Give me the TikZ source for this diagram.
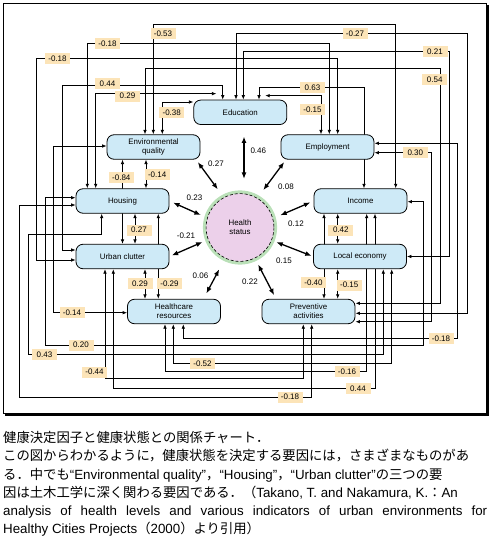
\documentclass[tikz,border=0pt]{standalone}
\usepackage{fontspec}
\setmainfont{Liberation Sans}
\newfontfamily\jp{Noto Sans CJK JP}
\usetikzlibrary{shapes, arrows, arrows.meta, positioning, calc, backgrounds}
\definecolor{boxblue}{RGB}{206,234,247}
\definecolor{coeforange}{RGB}{252,228,184}
\definecolor{healthpink}{RGB}{236,208,234}
\definecolor{ringgreen}{RGB}{186,224,184}
\tikzstyle{block} = [rectangle, draw, fill=boxblue, minimum width=93bp, minimum height=24.5bp, rounded corners=7bp, align=center, inner sep=0pt, line width=0.8bp, font=\fontsize{7.9bp}{8.9bp}\selectfont]
\tikzstyle{line} = [draw, line width=0.8bp, {Latex[length=4.5bp,width=3.6bp]}-{Latex[length=4.5bp,width=3.6bp]}]
\tikzstyle{hline} = [draw, line width=1.3bp, {Latex[length=6.5bp,width=5bp]}-{Latex[length=6.5bp,width=5bp]}]
\tikzstyle{coef} = [fill=coeforange, minimum width=25bp, minimum height=11bp, inner sep=0pt, font=\fontsize{8bp}{9bp}\selectfont]
\tikzstyle{numlbl} = [inner sep=0pt, font=\fontsize{8bp}{9bp}\selectfont]
\tikzstyle{captxt} = [inner sep=0pt, anchor=base west, font=\fontsize{13.33bp}{16bp}\selectfont]

\begin{document}
\begin{tikzpicture}[x=1bp, y=-1bp]
    \useasboundingbox (0,0) rectangle (495,536);
    \draw[line width=0.8bp] (3.3,3.3) rectangle (486,413);
    \draw[line width=2.6bp] (487.6,5) -- (487.6,414.6) -- (5,414.6);

    \node [block] (education) at (240.3,112.3) {Education};
    \node [block] (employment) at (327.5,147) {Employment};
    \node [block] (envq) at (153.5,147) {Environmental\\quality};
    \node [block] (housing) at (122.5,201) {Housing};
    \node [block] (urban) at (122.5,256.5) {Urban clutter};
    \node [block] (hcare) at (174,311.5) {Healthcare\\resources};
    \node [block] (income) at (360.5,201) {Income};
    \node [block] (localeco) at (360,256.5) {Local economy};
    \node [block] (prevent) at (308.5,311.5) {Preventive\\activities};
    \node [circle, draw=ringgreen, line width=3.2bp, fill=healthpink, minimum size=71bp, align=center, font=\fontsize{7.9bp}{8.9bp}\selectfont] (health) at (240,227.5) {Health\\status};
    \draw[densely dashed, line width=0.6bp] (health.center) circle (33.9);

    \begin{scope}[on background layer]
        % links round the outside
        \path [line] (envq.north -| 153.3,0) |- (395.7,24.3) -- (income.north -| 395.7,0) node[coef] at (163,33.5) {-0.53};
        \path [line] (education.north -| 236,0) |- (467.3,33.5) |- (prevent.east |- 0,313.3) node[coef] at (355,33.5) {-0.27};
        \path [line] (housing.north -| 87.3,0) |- (329.3,43.3) -- (employment.north -| 329.3,0) node[coef] at (107.5,43.5) {-0.18};
        \path [line] (education.north -| 243.3,0) |- (449.3,51) |- (localeco.east) node[coef] at (435,51.7) {0.21};
        \path [line] (urban.west |- 0,260) -| (36,58.3) -| (employment.north -| 337.7,0) node[coef] at (57.5,58.3) {-0.18};
        \path [line] (envq.north -| 145,0) |- (440.5,68.3) |- (prevent.east |- 0,303.3) node[coef] at (434.7,79.5) {0.54};
        \path [line] (urban.west |- 0,250) -| (62.7,85) -| (education.north -| 222.7,0) node[coef] at (107.5,83.5) {0.44};
        \path [line] (housing.north -| 95.7,0) |- ($(education.north west)+(23,-6)$) node[coef] at (127.5,96.2) {0.29};
        \path [line] (education.north -| 259,0) |- (364,87.3) -- (income.north -| 364,0) node[coef] at (312.5,87.5) {0.63};
        \path [line] (envq.north -| 162.3,0) |- (education.west |- 0,102) node[coef] at (171.7,112.8) {-0.38};
        \path [line] (employment.north -| 321,0) |- ($(education.north east)+(-22,-4)$) node[coef] at (312.5,109.5) {-0.15};
        \path [line] (employment.east |- 0,152.7) -| (431.7,321.7) -- (prevent.east |- 0,321.7) node[coef] at (415.3,153) {0.30};
        \path [line] (employment.east |- 0,143.3) -| (457.7,338.3) -| (hcare.south -| 183.3,0) node[coef] at (441,338.3) {-0.18};
        \path [line] (housing.west |- 0,197.7) -| (45,345) -| (423.3,201.7) -- (income.east |- 0,201.7) node[coef] at (81,345) {0.20};
        \path [line] (housing.west |- 0,205) -| (19.3,397) -| (prevent.south -| 311.7,0) node[coef] at (290,397) {-0.18};
        \path [line] (housing.south -| 101.7,0) |- (28.3,234.3) |- (383.3,354.3) -- (localeco.south -| 383.3,0) node[coef] at (44.5,354.3) {0.43};
        \path [line] (envq.west |- 0,146) -| (53.3,312.7) -- (hcare.west |- 0,312.7) node[coef] at (72,312.7) {-0.14};
        \path [line] (urban.south -| 105,0) |- (303.3,378.3) -- (prevent.south -| 303.3,0) node[coef] at (94.5,372) {-0.44};
        \path [line] (urban.south -| 113.3,0) |- (375,388.3) -- (income.south -| 375,0) node[coef] at (358,388.8) {0.44};
        \path [line] (hcare.south -| 165,0) |- (366.7,371.7) -- (income.south -| 366.7,0) node[coef] at (347,371.7) {-0.16};
        \path [line] (hcare.south -| 173.3,0) |- (391.7,363.3) -- (localeco.south -| 391.7,0) node[coef] at (202.5,363.3) {-0.52};
        % short links between the columns
        \path [line] (urban.north -| 122.5,0) -- (envq.south -| 122.5,0) node[coef] at (121.3,177.5) {-0.84};
        \path [line] (envq.south -| 146,0) -- (housing.north -| 146,0) node[coef] at (157.2,175) {-0.14};
        \path [line] (housing.south -| 135,0) -- (urban.north -| 135,0) node[coef] at (139,230) {0.27};
        \path [line] (housing.south -| 158.3,0) -- (hcare.north -| 158.3,0) node[coef] at (169.5,283.3) {-0.29};
        \path [line] (urban.south -| 145,0) -- (hcare.north -| 145,0) node[coef] at (140,283.3) {0.29};
        \path [line] (income.south -| 337.7,0) -- (localeco.north -| 337.7,0) node[coef] at (340.8,230) {0.42};
        \path [line] (income.south -| 324,0) -- (prevent.north -| 324,0) node[coef] at (313.5,282.8) {-0.40};
        \path [line] (localeco.south -| 337.7,0) -- (prevent.north -| 337.7,0) node[coef] at (349.2,285) {-0.15};
    \end{scope}

    % every factor against health status
    \path [hline, shorten <=11.5bp, shorten >=11.5bp] (education.south -| 244,0) -- (health.north -| 244,0) node[numlbl] at (258.3,150.7) {0.46};
    \path [hline, shorten <=3bp, shorten >=7bp] (envq.south -| 196,0) -- (health.119) node[numlbl] at (216,163.3) {0.27};
    \path [hline, shorten <=3bp, shorten >=7bp] (employment.south -| 286,0) -- (health.59) node[numlbl] at (286,186.7) {0.08};
    \path [hline, shorten <=4bp, shorten >=4bp] (housing.east) -- (health.163) node[numlbl] at (194.5,197.7) {0.23};
    \path [hline, shorten <=2.5bp, shorten >=3bp] (urban.east) -- (health.201) node[numlbl] at (186,236) {-0.21};
    \path [hline, shorten <=6bp, shorten >=9.5bp] (hcare.north -| 203.5,0) -- (health.244) node[numlbl] at (200.5,276) {0.06};
    \path [hline, shorten <=3.5bp, shorten >=5bp] (income.west) -- (health.16) node[numlbl] at (296,224) {0.12};
    \path [hline, shorten <=1.5bp, shorten >=2bp] (localeco.west) -- (health.338) node[numlbl] at (284,260.7) {0.15};
    \path [hline, shorten <=4bp, shorten >=4bp] (prevent.north -| 276,0) -- (health.296) node[numlbl] at (250,281.7) {0.22};

    \node [captxt] (capline1) at (3,442) {{\jp 健康決定因子と健康状態との関係チャート．}};
    \node [captxt] (capline2) at (3,460.5) {{\jp この図からわかるように，健康状態を決定する要因には，さまざまなものがあ}};
    \node [captxt] (capline3) at (3,479) {{\jp る．中でも}“Environmental quality”{\jp ，}“Housing”{\jp ，}“Urban clutter”{\jp の三つの要}};
    \node [captxt] (capline4) at (3,497) {{\jp 因は土木工学に深く関わる要因である．（}Takano, T. and Nakamura, K.{\jp ：}An};
    \node [captxt] (capline5) at (3,515.5) {\makebox[484bp][s]{analysis of health levels and various indicators of urban environments for}};
    \node [captxt] (capline6) at (3,533.5) {Healthy Cities Projects{\jp （}2000{\jp ）より引用）}};
\end{tikzpicture}
\end{document}
